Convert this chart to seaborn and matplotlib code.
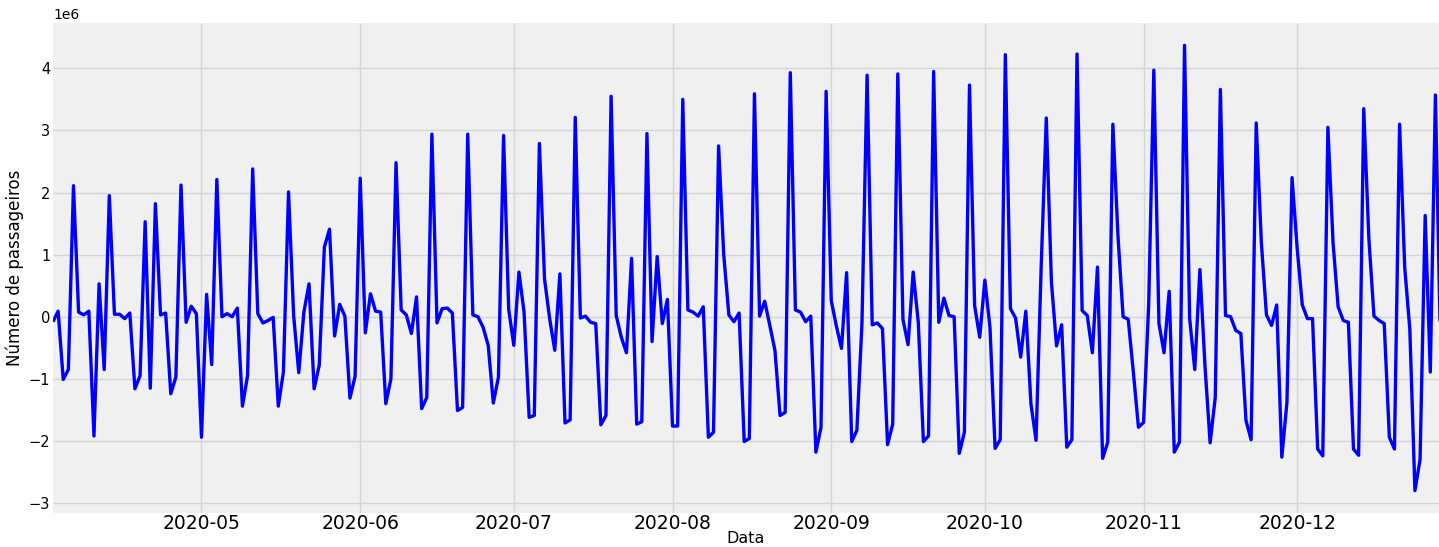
import numpy as np
import pandas as pd
import matplotlib
matplotlib.use("Agg")
import matplotlib.pyplot as plt
import seaborn as sns

start_date = "2020-04-02"
# daily differenced passenger counts, in millions
values_millions = [
    -0.08, 0.09, -1.01, -0.85, 2.11, 0.075, 0.03, 0.09, -1.92, 0.53,
    -0.85, 1.95, 0.04, 0.04, -0.03, 0.06, -1.16, -0.95, 1.53, -1.15,
    1.82, 0.03, 0.06, -1.24, -0.97, 2.12, -0.09, 0.17, 0.05, -1.94,
    0.36, -0.77, 2.21, 0.0, 0.05, 0.0, 0.14, -1.44, -0.95, 2.38,
    0.05, -0.1, -0.06, -0.01, -1.44, -0.89, 2.01, 0.02, -0.9, 0.075,
    0.53, -1.16, -0.78, 1.12, 1.41, -0.31, 0.2, 0.01, -1.31, -0.96,
    2.23, -0.26, 0.37, 0.09, 0.075, -1.40, -1.0, 2.48, 0.11, 0.03,
    -0.27, 0.32, -1.48, -1.30, 2.94, -0.1, 0.13, 0.14, 0.06, -1.51,
    -1.46, 2.94, 0.03, 0.0, -0.17, -0.46, -1.39, -0.97, 2.92, 0.12,
    -0.46, 0.72, 0.075, -1.62, -1.59, 2.79, 0.61, -0.03, -0.54, 0.69,
    -1.71, -1.66, 3.21, -0.02, 0.01, -0.09, -0.11, -1.74, -1.59, 3.55,
    0.02, -0.33, -0.58, 0.94, -1.73, -1.69, 2.95, -0.40, 0.97, -0.11,
    0.28, -1.76, -1.76, 3.5, 0.11, 0.075, 0.01, 0.16, -1.94, -1.86,
    2.75, 1.0, 0.03, -0.08, 0.06, -2.01, -1.96, 3.59, 0.01, 0.25,
    -0.14, -0.54, -1.59, -1.54, 3.93, 0.11, 0.075, -0.08, 0.01, -2.18,
    -1.78, 3.63, 0.26, -0.15, -0.51, 0.71, -2.01, -1.83, -0.1, 3.89,
    -0.13, -0.1, -0.19, -2.06, -1.73, 3.91, -0.04, -0.45, 0.72, -0.09,
    -2.01, -1.92, 3.95, -0.09, 0.3, 0.02, 0.0, -2.2, -1.86, 3.73,
    0.18, -0.33, 0.59, -0.17, -2.12, -1.98, 4.22, 0.13, -0.02, -0.65,
    0.09, -1.40, -1.99, 0.8, 3.2, 0.56, -0.47, -0.13, -2.1, -1.98,
    4.23, 0.1, 0.02, -0.58, 0.8, -2.28, -2.02, 3.1, 1.3, 0.0,
    -0.04, -0.89, -1.78, -1.70, 0.2, 3.97, -0.11, -0.58, 0.41, -2.18,
    -2.02, 4.37, -0.03, -0.85, 0.76, -0.8, -2.03, -1.30, 3.66, 0.02,
    0.0, -0.22, -0.27, -1.67, -1.98, 3.12, 1.2, 0.03, -0.14, 0.19,
    -2.26, -1.38, 2.24, 1.1, 0.19, -0.03, -0.03, -2.13, -2.24, 3.05,
    1.2, 0.16, -0.06, -0.09, -2.13, -2.23, 3.35, 1.26, 0.01, -0.06,
    -0.11, -1.94, -2.13, 3.1, 0.8, -0.2, -2.8, -2.3, 1.63, -0.89,
    3.57, -0.5,
]

dates = pd.date_range(start_date, periods=len(values_millions), freq="D")
df = pd.DataFrame({"Data": dates,
                   "Número de passageiros": np.array(values_millions) * 1e6})

plt.style.use("fivethirtyeight")
plt.rcParams.update({
    "figure.facecolor": "white",
    "savefig.facecolor": "white",
    "axes.facecolor": "#f0f0f0",
    "axes.edgecolor": "#f0f0f0",
    "grid.color": "#d5d5d5",
    "grid.linewidth": 1.0,
    "font.family": ["DejaVu Sans"],
})

fig = plt.figure(figsize=(14.39, 5.47), dpi=100)
ax = fig.add_axes([53 / 1439, 34 / 547, 1 - 53 / 1439, 490 / 547])
sns.lineplot(data=df, x="Data", y="Número de passageiros", ax=ax,
             color="#0000ff", linewidth=2.4)

ax.set_xlim(dates[0], dates[0] + pd.Timedelta(days=270.7))
ax.set_ylim(-3.16e6, 4.73e6)
ax.tick_params(axis="x", labelsize=13.5, pad=1, length=0)
ax.tick_params(axis="y", labelsize=10.5, pad=2, length=0)
ax.yaxis.get_offset_text().set_fontsize(10)
ax.set_xlabel("Data", fontsize=11.5, labelpad=-2)
ax.set_ylabel("Número de passageiros", fontsize=12, labelpad=3)
for s in ax.spines.values():
    s.set_visible(False)

fig.savefig("out.png", dpi=100)
